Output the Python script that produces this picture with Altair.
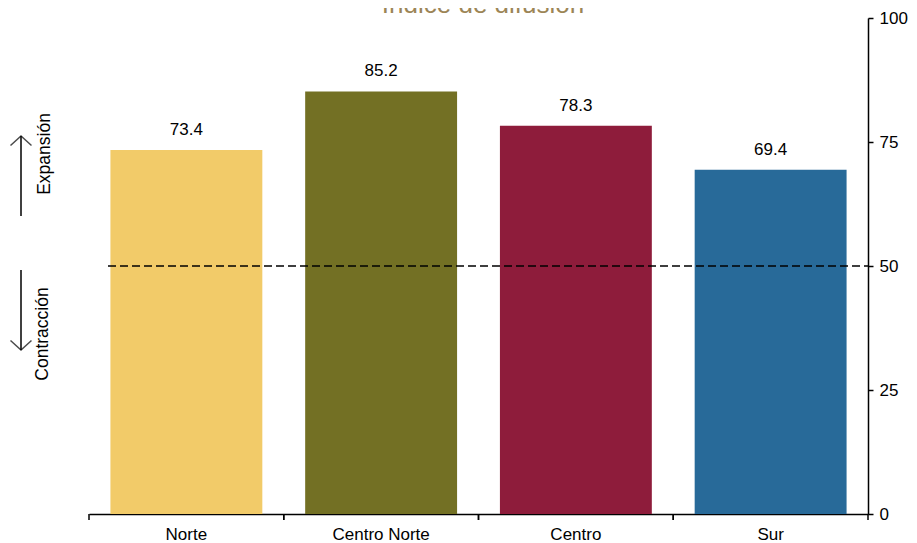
import altair as alt
import pandas as pd

regions = ['Norte', 'Centro Norte', 'Centro', 'Sur']
values = [73.4, 85.2, 78.3, 69.4]
colors = ['#F2CB69', '#737024', '#8E1C3B', '#286A99']
y_ticks = [0, 25, 50, 75, 100]
threshold = 50
title_text = 'Índice de difusión'

df = pd.DataFrame({'region': regions, 'value': values})
one = alt.Data(values=[{'k': 0}])
FONT = 'Liberation Sans'

x = alt.X('region:N', sort=regions, title=None,
          scale=alt.Scale(paddingInner=0.22, paddingOuter=0.11),
          axis=alt.Axis(ticks=False, labelFontSize=17, labelColor='black',
                        labelPadding=12, domainColor='black', domainWidth=1.5,
                        labelAngle=0, labelFont=FONT))
y = alt.Y('value:Q', title=None,
          scale=alt.Scale(domain=[0, 100], nice=False),
          axis=alt.Axis(orient='right', values=y_ticks, grid=False, tickSize=5,
                        labelFontSize=17, labelPadding=6, domainColor='black',
                        domainWidth=1.5, tickColor='black', tickWidth=1.5,
                        labelColor='black', labelFont=FONT))

bars = alt.Chart(df).mark_bar().encode(
    x=x, y=y,
    color=alt.Color('region:N', sort=regions, legend=None,
                    scale=alt.Scale(domain=regions, range=colors))
)
labels = alt.Chart(df).mark_text(baseline='alphabetic', dy=-15, fontSize=17,
                                 font=FONT, color='black').encode(
    x=x, y=y, text=alt.Text('value:Q', format='.1f'))

ref = alt.Chart(one).mark_rule(color='black', strokeDash=[8, 4], strokeWidth=1.5).encode(
    y=alt.datum(threshold), x=alt.value(19), x2=alt.value(779))

main = alt.layer(bars, labels, ref)

# tick marks at the category borders (separate band scale with no padding)
xt0 = alt.X('region:N', sort=regions, bandPosition=0, axis=None,
            scale=alt.Scale(paddingInner=0, paddingOuter=0))
xt1 = alt.X('region:N', sort=regions, bandPosition=1, axis=None,
            scale=alt.Scale(paddingInner=0, paddingOuter=0))
ticks = alt.layer(
    alt.Chart(df).mark_rule(color='black', strokeWidth=1.5).encode(
        x=xt0, y=alt.value(496), y2=alt.value(502)),
    alt.Chart(df).mark_rule(color='black', strokeWidth=1.5).encode(
        x=xt1, y=alt.value(496), y2=alt.value(502)),
)

up_line = alt.Chart(one).mark_rule(color='black', strokeWidth=1.5).encode(
    x=alt.value(-68), y=alt.value(118), y2=alt.value(198))
up_head = alt.Chart(one).mark_point(shape='M-1,0.9L0,0L1,0.9', filled=False,
                                    size=441, color='black', strokeWidth=1.5).encode(
    x=alt.value(-68), y=alt.value(118))
down_line = alt.Chart(one).mark_rule(color='black', strokeWidth=1.5).encode(
    x=alt.value(-68), y=alt.value(252), y2=alt.value(332))
down_head = alt.Chart(one).mark_point(shape='M-1,-0.9L0,0L1,-0.9', filled=False,
                                      size=441, color='black', strokeWidth=1.5).encode(
    x=alt.value(-68), y=alt.value(332))
exp_txt = alt.Chart(one).mark_text(text='Expansión', angle=270, fontSize=17.5, font=FONT,
                                   align='center', baseline='middle', color='black').encode(
    x=alt.value(-44), y=alt.value(136))
con_txt = alt.Chart(one).mark_text(text='Contracción', angle=270, fontSize=17.5, font=FONT,
                                   align='center', baseline='middle', color='black').encode(
    x=alt.value(-46), y=alt.value(316))
title = alt.Chart(one).mark_text(text=title_text, fontSize=26, font=FONT, color='#9C8556',
                                 align='center', baseline='alphabetic').encode(
    x=alt.value(394), y=alt.value(-5))

chart = alt.layer(
    main, ticks, up_line, up_head, down_line, down_head, exp_txt, con_txt, title
).resolve_scale(x='independent').properties(
    width=779, height=496,
    autosize=alt.AutoSizeParams(type='none'),
    padding={'left': 81, 'top': 10, 'right': 40, 'bottom': 28}
).configure(font=FONT).configure_view(stroke=None)

chart.save('out.html', embed_options={'renderer': 'svg', 'actions': False})
